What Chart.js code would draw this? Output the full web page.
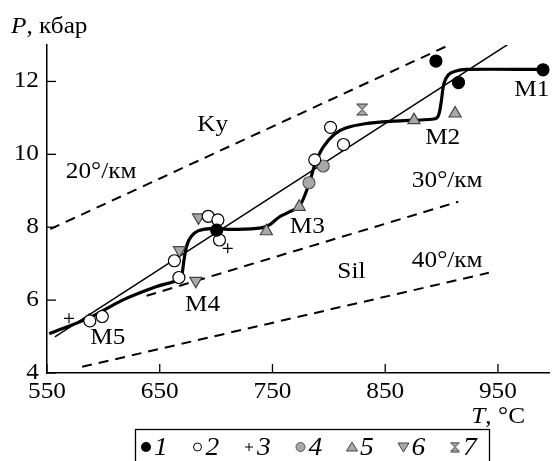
<!DOCTYPE html>
<html>
<head>
<meta charset="utf-8">
<script src="https://cdn.jsdelivr.net/npm/chart.js@4.4.0/dist/chart.umd.min.js"></script>
<style>
html, body { margin: 0; padding: 0; background: #fff; }
#wrap { width: 558px; height: 461px; }
</style>
</head>
<body>
<div id="wrap"><canvas id="chart" width="558" height="461"></canvas></div>
<script>
const FONT = "'Liberation Serif', 'Times New Roman', serif";
const GRAY = "#a9a9a9";
const STRETCH = 1.1; // the printed figure's type is a bit wide

// series 1 - filled black circles
const t1 = [895, 915, 990, 700.5];
const p1 = [12.56, 11.97, 12.32, 7.92];
// series 2 - open circles
const t2 = [663, 667, 588, 599, 703, 693, 701.6, 801.5, 813, 787.5];
const p2 = [7.08, 6.62, 5.43, 5.55, 7.65, 8.3, 8.2, 10.74, 10.27, 9.85];
// series 3 - crosses
const t3 = [569.5, 587.5, 710.3];
const p3 = [5.5, 5.5, 7.42];
// series 4 - gray circles
const t4 = [795, 782.4];
const p4 = [9.68, 9.22];
// series 5 - gray triangles up
const t5 = [875.5, 912, 773.7, 744.6];
const p5 = [10.94, 11.12, 8.56, 7.89];
// series 6 - gray triangles down
const t6 = [684.4, 667.5, 682];
const p6 = [8.27, 7.37, 6.53];
// series 7 - hourglass
const t7 = [829.5];
const p7 = [11.23];

// thick P-T path
const pathT = [552, 588, 617, 646, 663, 669, 671.5, 674, 678, 684, 695, 719, 740, 748, 756, 765, 774, 782, 788, 795, 805, 815, 832, 858, 893, 897, 899.5, 902, 906, 912, 922, 990];
const pathP = [5.08, 5.52, 6.0, 6.36, 6.52, 6.65, 7.1, 7.5, 7.75, 7.9, 7.96, 7.94, 7.98, 8.08, 8.28, 8.42, 8.58, 9.15, 9.75, 10.2, 10.55, 10.72, 10.84, 10.91, 10.97, 11.05, 11.4, 11.93, 12.18, 12.28, 12.33, 12.33];
// thin trend line
const trendT = [557, 960];
const trendP = [4.99, 13.04];
// geotherms (dashed)
const g20T = [553, 904.6], g20P = [7.95, 12.97];
const g30T = [638.4, 914.8], g30P = [6.12, 8.70];
const g40T = [581.2, 941.9], g40P = [4.17, 6.75];

const xTicks = [550, 650, 750, 850, 950];
const yTicks = [4, 6, 8, 10, 12];

const notes = [
  { text: "Ky", t: 697, p: 10.8 },
  { text: "20°/км", t: 598, p: 9.51 },
  { text: "30°/км", t: 905, p: 9.27 },
  { text: "40°/км", t: 905, p: 7.07 },
  { text: "Sil", t: 820, p: 6.77 },
  { text: "M1", t: 980, p: 11.76 },
  { text: "M2", t: 901, p: 10.44 },
  { text: "M3", t: 781, p: 8.0 },
  { text: "M4", t: 688, p: 5.86 },
  { text: "M5", t: 604, p: 4.96 }
];
const legendLabels = ["1", "2", "3", "4", "5", "6", "7"];

function pts(ts, ps) { return ts.map((t, i) => ({ x: t, y: ps[i] })); }

function hourglass(size) {
  const c = document.createElement("canvas");
  c.width = size + 2; c.height = size + 2;
  const g = c.getContext("2d");
  g.beginPath();
  g.moveTo(1, 1); g.lineTo(size + 1, 1); g.lineTo(1, size + 1); g.lineTo(size + 1, size + 1); g.closePath();
  g.fillStyle = GRAY; g.fill();
  g.strokeStyle = "#333"; g.lineWidth = 1; g.stroke();
  return c;
}
const hgBig = hourglass(11);
const hgSmall = hourglass(9);

function marker(ds) {
  return Object.assign({ type: "scatter", showLine: false, pointBorderWidth: 1.2, pointHoverRadius: 0 }, ds);
}
function line(ts, ps, w, dash) {
  return { type: "scatter", data: pts(ts, ps), showLine: true, pointRadius: 0, borderColor: "#000",
    borderWidth: w, borderDash: dash || [], tension: 0.3, fill: false };
}

const datasets = [
  marker({ data: pts(t1, p1), pointStyle: "circle", pointRadius: 6, pointBackgroundColor: "#000", pointBorderColor: "#000" }),
  marker({ data: pts(t2, p2), pointStyle: "circle", pointRadius: 6, pointBackgroundColor: "#fff", pointBorderColor: "#000" }),
  marker({ data: pts(t3, p3), pointStyle: "cross", pointRadius: 5, pointBackgroundColor: "#000", pointBorderColor: "#000" }),
  marker({ data: pts(t4, p4), pointStyle: "circle", pointRadius: 6, pointBackgroundColor: GRAY, pointBorderColor: "#555" }),
  marker({ data: pts(t5, p5), pointStyle: "triangle", pointRadius: 7, pointBackgroundColor: GRAY, pointBorderColor: "#444" }),
  marker({ data: pts(t6, p6), pointStyle: "triangle", rotation: 180, pointRadius: 7, pointBackgroundColor: GRAY, pointBorderColor: "#444" }),
  marker({ data: pts(t7, p7), pointStyle: hgBig, pointRadius: 6 }),
  line(pathT, pathP, 3.2),
  line(trendT, trendP, 1.5),
  line(g20T, g20P, 2, [10, 7]),
  line(g30T, g30P, 2, [10, 7]),
  line(g40T, g40P, 2, [10, 7])
];

// text drawn slightly wider, like the original typesetting
function wideText(ctx, text, x, y, align, font) {
  ctx.save();
  ctx.font = font;
  ctx.translate(x, y);
  ctx.scale(STRETCH, 1);
  ctx.textAlign = align;
  ctx.fillText(text, 0, 0);
  ctx.restore();
}
function textWidth(ctx, text, font) {
  ctx.save(); ctx.font = font;
  const w = ctx.measureText(text).width * STRETCH;
  ctx.restore();
  return w;
}

function legendMark(ctx, i, x, y) {
  ctx.save();
  ctx.lineWidth = 1;
  ctx.strokeStyle = "#000";
  ctx.beginPath();
  if (i === 0) { ctx.arc(x, y, 5, 0, Math.PI * 2); ctx.fillStyle = "#000"; ctx.fill(); }
  else if (i === 1) { ctx.arc(x, y, 4, 0, Math.PI * 2); ctx.stroke(); }
  else if (i === 2) { ctx.moveTo(x - 4, y); ctx.lineTo(x + 4, y); ctx.moveTo(x, y - 4); ctx.lineTo(x, y + 4); ctx.stroke(); }
  else if (i === 3) { ctx.arc(x, y, 4.5, 0, Math.PI * 2); ctx.fillStyle = GRAY; ctx.fill(); ctx.strokeStyle = "#555"; ctx.stroke(); }
  else if (i === 4) { ctx.moveTo(x, y - 5); ctx.lineTo(x + 5.5, y + 4); ctx.lineTo(x - 5.5, y + 4); ctx.closePath(); ctx.fillStyle = GRAY; ctx.fill(); ctx.strokeStyle = "#444"; ctx.stroke(); }
  else if (i === 5) { ctx.moveTo(x, y + 5); ctx.lineTo(x + 5.5, y - 4); ctx.lineTo(x - 5.5, y - 4); ctx.closePath(); ctx.fillStyle = GRAY; ctx.fill(); ctx.strokeStyle = "#444"; ctx.stroke(); }
  else { ctx.drawImage(hgSmall, x - hgSmall.width / 2, y - hgSmall.height / 2); }
  ctx.restore();
}

const decor = {
  id: "decor",
  afterDraw(chart) {
    const { ctx, chartArea: a } = chart;
    const xs = chart.scales.x, ys = chart.scales.y;
    const reg = "23px " + FONT, ital = "italic 23px " + FONT;
    ctx.save();
    // inward tick marks
    ctx.strokeStyle = "#000";
    ctx.lineWidth = 1.3;
    xTicks.forEach(v => {
      const px = xs.getPixelForValue(v);
      ctx.beginPath(); ctx.moveTo(px, a.bottom); ctx.lineTo(px, a.bottom - 9); ctx.stroke();
    });
    yTicks.forEach(v => {
      const py = ys.getPixelForValue(v);
      ctx.beginPath(); ctx.moveTo(a.left, py); ctx.lineTo(a.left + 9, py); ctx.stroke();
    });
    ctx.fillStyle = "#000";
    ctx.textBaseline = "middle";
    // tick labels
    xTicks.forEach(v => wideText(ctx, String(v), xs.getPixelForValue(v), a.bottom + 19, "center", reg));
    yTicks.forEach(v => wideText(ctx, String(v), a.left - 8, ys.getPixelForValue(v), "right", reg));
    // text annotations
    notes.forEach(n => wideText(ctx, n.text, xs.getPixelForValue(n.t), ys.getPixelForValue(n.p), "center", reg));
    // axis titles
    ctx.textBaseline = "alphabetic";
    wideText(ctx, "P", 11, 33, "left", ital);
    wideText(ctx, ", кбар", 11 + textWidth(ctx, "P", ital), 33, "left", reg);
    wideText(ctx, ", °C", 525, 423, "right", reg);
    wideText(ctx, "T", 525 - textWidth(ctx, ", °C", reg), 423, "right", ital);
    // legend box
    ctx.lineWidth = 1.3;
    ctx.strokeRect(135.5, 429.5, 354, 40);
    ctx.textBaseline = "middle";
    legendLabels.forEach((lab, i) => {
      const mx = 146 + i * 51.5;
      legendMark(ctx, i, mx, 447);
      ctx.fillStyle = "#000";
      wideText(ctx, lab, mx + 8, 448, "left", "italic 25px " + FONT);
    });
    ctx.restore();
  }
};

new Chart(document.getElementById("chart"), {
  type: "scatter",
  data: { datasets },
  options: {
    responsive: false,
    animation: false,
    events: [],
    layout: { padding: { top: 45, right: 0, left: 0, bottom: 0 } },
    plugins: { legend: { display: false }, tooltip: { enabled: false } },
    scales: {
      x: {
        type: "linear", min: 550, max: 996,
        afterFit: s => { s.height = 88; },
        grid: { display: false, drawTicks: false },
        border: { display: true, color: "#000", width: 1.5 },
        afterBuildTicks: s => { s.ticks = xTicks.map(v => ({ value: v })); },
        ticks: { display: false }
      },
      y: {
        type: "linear", min: 4, max: 13,
        afterFit: s => { s.width = 47; },
        grid: { display: false, drawTicks: false },
        border: { display: true, color: "#000", width: 1.5 },
        afterBuildTicks: s => { s.ticks = yTicks.map(v => ({ value: v })); },
        ticks: { display: false }
      }
    }
  },
  plugins: [decor]
});
</script>
</body>
</html>
